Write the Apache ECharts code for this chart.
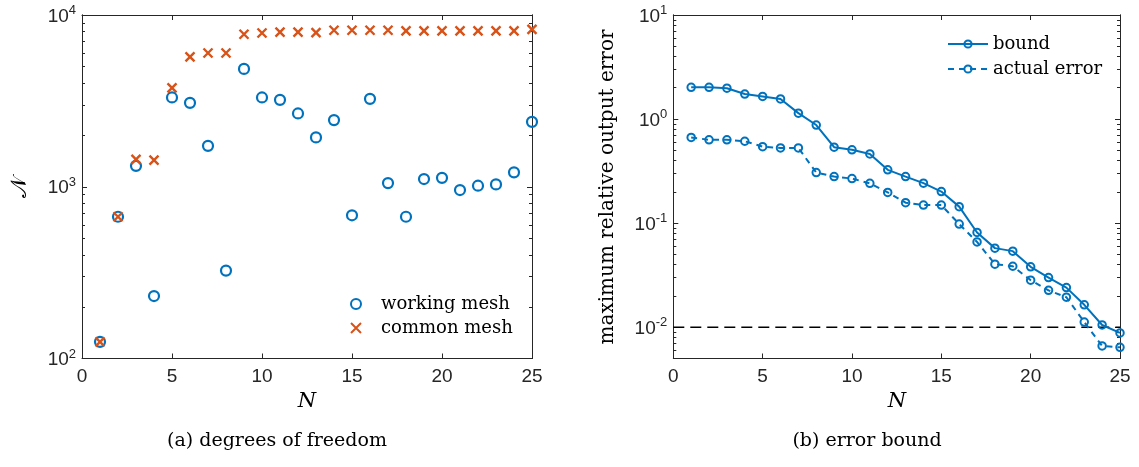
<!DOCTYPE html>
<html><head><meta charset="utf-8">
<script src="https://cdn.jsdelivr.net/npm/echarts@6/dist/echarts.min.js"></script>
<style>html,body{margin:0;padding:0;background:#fff}#c{width:1139px;height:467px}</style>
</head><body><div id="c"></div>
<script>
// ---------- data ----------
const N = [1,2,3,4,5,6,7,8,9,10,11,12,13,14,15,16,17,18,19,20,21,22,23,24,25];
const workingMesh = [125, 669, 1324, 231, 3311, 3079, 1731, 325, 4853, 3311, 3206, 2671, 1937, 2443, 682, 3249, 1050, 669, 1109, 1127, 957, 1014, 1032, 1213, 2388];
const commonMesh  = [125, 669, 1442, 1429, 3763, 5700, 6010, 6010, 7727, 7855, 7955, 7955, 7900, 8151, 8151, 8151, 8151, 8076, 8076, 8076, 8076, 8076, 8076, 8076, 8254];
const bound       = [2.02, 2.02, 1.98, 1.74, 1.65, 1.56, 1.14, 0.876, 0.537, 0.506, 0.462, 0.325, 0.280, 0.242, 0.201, 0.144, 0.0813, 0.0575, 0.0538, 0.0380, 0.0300, 0.0240, 0.0164, 0.0105, 0.0088];
const actualError = [0.666, 0.632, 0.632, 0.612, 0.543, 0.528, 0.528, 0.306, 0.280, 0.268, 0.241, 0.197, 0.157, 0.149, 0.149, 0.098, 0.0659, 0.0403, 0.0385, 0.0283, 0.0226, 0.0194, 0.0112, 0.0066, 0.0064];
const tolerance = 0.01;
const xRange = [0, 25];
const xTickStep = 5;
const dofRange = [100, 10000];
const errRange = [0.005, 10];
const dofMajor = [100, 1000, 10000];
const dofMinor = [200,300,400,500,600,700,800,900,2000,3000,4000,5000,6000,7000,8000,9000];
const errMajor = [0.01, 0.1, 1, 10];
const errMinor = [0.006,0.007,0.008,0.009,0.02,0.03,0.04,0.05,0.06,0.07,0.08,0.09,0.2,0.3,0.4,0.5,0.6,0.7,0.8,0.9,2,3,4,5,6,7,8,9];

// ---------- styling ----------
const AX = '#262626';
const BLUE = '#0072BD';
const ORANGE = '#D95319';
const SERIF = 'DejaVu Serif';
const SANS = 'Liberation Sans';

function powLabel(v) {
  const l = Math.log10(v);
  const e = Math.round(l);
  if (Math.abs(l - e) > 1e-6) return '';
  return '{b|10}{s|' + e + '}';
}
const richPow = {
  b: {fontSize: 19, fontFamily: SANS, color: AX, verticalAlign: 'bottom'},
  s: {fontSize: 13, fontFamily: SANS, color: AX, verticalAlign: 'bottom', padding: [0, 0, 9, 0]}
};

function xAx(grid, pos, labels) {
  return {
    type: 'value', gridIndex: grid, position: pos, min: xRange[0], max: xRange[1], interval: xTickStep,
    axisLine: {show: true, lineStyle: {color: AX, width: 1}},
    axisTick: {show: true, inside: true, length: 5, lineStyle: {color: AX, width: 1}},
    axisLabel: {show: labels, margin: 9, fontSize: 19, fontFamily: SANS, color: AX},
    splitLine: {show: false}
  };
}
function yAx(grid, pos, range, ticks, len, labels) {
  return {
    type: 'log', logBase: 10, gridIndex: grid, position: pos, min: range[0], max: range[1],
    axisLine: {show: true, lineStyle: {color: AX, width: 1}},
    axisTick: {show: true, inside: true, length: len, customValues: ticks, lineStyle: {color: AX, width: 1}},
    axisLabel: labels ? {show: true, margin: 6, customValues: ticks, formatter: powLabel, rich: richPow} : {show: false},
    splitLine: {show: false}, minorTick: {show: false}
  };
}

const xSym = 'path://M0,0L10,10M10,0L0,10';

const option = {
  animation: false,
  backgroundColor: '#fff',
  grid: [
    {left: 82, top: 15, width: 450, height: 343.5},
    {left: 673.3, top: 15, width: 446.7, height: 343.5}
  ],
  xAxis: [xAx(0, 'bottom', true), xAx(0, 'top', false), xAx(1, 'bottom', true), xAx(1, 'top', false)],
  yAxis: [
    yAx(0, 'left', dofRange, dofMajor, 5, true),
    yAx(0, 'left', dofRange, dofMinor, 3, false),
    yAx(0, 'right', dofRange, dofMajor, 5, false),
    yAx(0, 'right', dofRange, dofMinor, 3, false),
    yAx(1, 'left', errRange, errMajor, 5, true),
    yAx(1, 'left', errRange, errMinor, 3, false),
    yAx(1, 'right', errRange, errMajor, 5, false),
    yAx(1, 'right', errRange, errMinor, 3, false)
  ],
  legend: [
    {
      data: ['working mesh', 'common mesh'], orient: 'vertical', left: 350, top: 295, padding: 0,
      itemWidth: 40, itemHeight: 10, itemGap: 6,
      textStyle: {fontFamily: SERIF, fontSize: 18, color: '#000'}
    },
    {
      data: ['bound', 'actual error'], orient: 'vertical', left: 947, top: 35, padding: 0,
      itemWidth: 40, itemHeight: 9, itemGap: 7,
      lineStyle: {width: 2},
      textStyle: {fontFamily: SERIF, fontSize: 18, color: '#000'}
    }
  ],
  series: [
    {
      name: 'working mesh', type: 'scatter', xAxisIndex: 0, yAxisIndex: 0, clip: false,
      data: N.map((n, i) => [n, workingMesh[i]]),
      symbol: 'circle', symbolSize: 10,
      itemStyle: {color: 'rgba(0,0,0,0)', borderColor: BLUE, borderWidth: 2.2, opacity: 1}
    },
    {
      name: 'common mesh', type: 'scatter', xAxisIndex: 0, yAxisIndex: 0, clip: false,
      data: N.map((n, i) => [n, commonMesh[i]]),
      symbol: xSym, symbolSize: 9,
      itemStyle: {color: ORANGE, borderColor: ORANGE, borderWidth: 2.4, opacity: 1}
    },
    {
      name: 'tolerance', type: 'line', xAxisIndex: 2, yAxisIndex: 4, clip: false,
      data: [[xRange[0], tolerance], [xRange[1], tolerance]],
      symbol: 'none', silent: true,
      lineStyle: {color: '#000', width: 1.4, type: [11, 6]}
    },
    {
      name: 'bound', type: 'line', xAxisIndex: 2, yAxisIndex: 4, clip: false,
      data: N.map((n, i) => [n, bound[i]]),
      symbol: 'circle', symbolSize: 7.5,
      itemStyle: {color: 'rgba(0,0,0,0)', borderColor: BLUE, borderWidth: 2},
      lineStyle: {color: BLUE, width: 2}
    },
    {
      name: 'actual error', type: 'line', xAxisIndex: 2, yAxisIndex: 4, clip: false,
      data: N.map((n, i) => [n, actualError[i]]),
      symbol: 'circle', symbolSize: 7.5,
      itemStyle: {color: 'rgba(0,0,0,0)', borderColor: BLUE, borderWidth: 2},
      lineStyle: {color: BLUE, width: 2, type: [6, 5]}
    }
  ],
  graphic: [
    {type: 'text', x: 20, y: 187, rotation: Math.PI / 2,
     style: {text: '𝒩', align: 'center', verticalAlign: 'middle', fontSize: 22, fontFamily: 'DejaVu Serif, DejaVu Sans', fill: '#000'}},
    {type: 'text', x: 307, y: 402,
     style: {text: 'N', align: 'center', verticalAlign: 'middle', fontSize: 21, fontStyle: 'italic', fontFamily: SERIF, fill: '#000'}},
    {type: 'text', x: 608, y: 187, rotation: Math.PI / 2,
     style: {text: 'maximum relative output error', align: 'center', verticalAlign: 'middle', fontSize: 20, fontFamily: SERIF, fill: '#000'}},
    {type: 'text', x: 897, y: 402,
     style: {text: 'N', align: 'center', verticalAlign: 'middle', fontSize: 21, fontStyle: 'italic', fontFamily: SERIF, fill: '#000'}},
    {type: 'text', x: 277, y: 441,
     style: {text: '(a) degrees of freedom', align: 'center', verticalAlign: 'middle', fontSize: 19, fontFamily: SERIF, fill: '#000'}},
    {type: 'text', x: 867, y: 441,
     style: {text: '(b) error bound', align: 'center', verticalAlign: 'middle', fontSize: 19, fontFamily: SERIF, fill: '#000'}}
  ]
};

const chart = echarts.init(document.getElementById('c'), null, {renderer: 'canvas'});
chart.setOption(option);
</script>
</body></html>
